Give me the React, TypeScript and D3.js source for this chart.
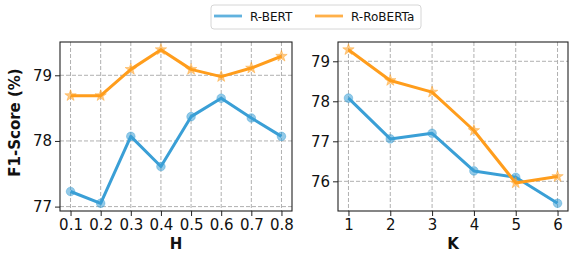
import { useEffect, useRef } from 'react'
import * as d3 from 'd3'

const W = 569, H = 253
const FONT = 'DejaVu Sans, sans-serif'

const BLUE = '#3a9fd6'
const ORANGE = '#ff9d1c'

// ── data ────────────────────────────────────────────────────────────────
const H_VALUES = [0.1, 0.2, 0.3, 0.4, 0.5, 0.6, 0.7, 0.8]
const H_BERT = [77.23, 77.05, 78.07, 77.61, 78.37, 78.65, 78.35, 78.07]
const H_ROBERTA = [78.69, 78.69, 79.09, 79.39, 79.09, 78.98, 79.11, 79.29]

const K_VALUES = [1, 2, 3, 4, 5, 6]
const K_BERT = [78.08, 77.06, 77.2, 76.26, 76.1, 75.45]
const K_ROBERTA = [79.29, 78.52, 78.23, 77.27, 75.96, 76.12]

const H_YTICKS = [77, 78, 79]
const K_YTICKS = [76, 77, 78, 79]

const LEGEND = [
  { label: 'R-BERT', color: BLUE },
  { label: 'R-RoBERTa', color: ORANGE },
]

interface Panel {
  x0: number; x1: number; y0: number; y1: number
  xs: number[]; a: number[]; b: number[]
  yticks: number[]; xlabel: string; xfmt: (v: number) => string
  ylabel?: string
}

const PANELS: Panel[] = [
  { x0: 60, x1: 292, y0: 42, y1: 211, xs: H_VALUES, a: H_BERT, b: H_ROBERTA,
    yticks: H_YTICKS, xlabel: 'H', xfmt: v => v.toFixed(1), ylabel: 'F1-Score (%)' },
  { x0: 338, x1: 568, y0: 42, y1: 211, xs: K_VALUES, a: K_BERT, b: K_ROBERTA,
    yticks: K_YTICKS, xlabel: 'K', xfmt: v => String(v) },
]

// matplotlib-style 5% padding
function padded(vals: number[]): [number, number] {
  const [lo, hi] = d3.extent(vals) as [number, number]
  const m = (hi - lo) * 0.05
  return [lo - m, hi + m]
}

function starPath(r: number) {
  const pts: string[] = []
  for (let i = 0; i < 10; i++) {
    const rr = i % 2 === 0 ? r : r * 0.4
    const ang = -Math.PI / 2 + (i * Math.PI) / 5
    pts.push(`${(rr * Math.cos(ang)).toFixed(2)},${(rr * Math.sin(ang)).toFixed(2)}`)
  }
  return `M${pts.join('L')}Z`
}

export default function App() {
  const svgRef = useRef<SVGSVGElement>(null)

  useEffect(() => {
    const svg = d3.select(svgRef.current!)
    svg.selectAll('*').remove()

    PANELS.forEach(p => {
      const x = d3.scaleLinear().domain(padded(p.xs)).range([p.x0, p.x1])
      const y = d3.scaleLinear().domain(padded([...p.a, ...p.b])).range([p.y1, p.y0])
      const g = svg.append('g')

      // ── grid ──────────────────────────────────────────────────────────
      g.selectAll('line.vg').data(p.xs).join('line')
        .attr('x1', d => x(d)).attr('x2', d => x(d))
        .attr('y1', p.y0).attr('y2', p.y1)
        .attr('stroke', '#b0b0b0').attr('stroke-width', 1).attr('stroke-dasharray', '4 2')
      g.selectAll('line.hg').data(p.yticks).join('line')
        .attr('x1', p.x0).attr('x2', p.x1)
        .attr('y1', d => y(d)).attr('y2', d => y(d))
        .attr('stroke', '#b0b0b0').attr('stroke-width', 1).attr('stroke-dasharray', '4 2')

      // ── axes ──────────────────────────────────────────────────────────
      g.append('g').attr('transform', `translate(0,${p.y1})`)
        .call(d3.axisBottom(x).tickValues(p.xs).tickFormat(d => p.xfmt(d as number)).tickSize(5).tickPadding(3))
        .call(ax => {
          ax.select('.domain').remove()
          ax.selectAll('.tick line').attr('stroke', '#222')
          ax.selectAll('.tick text').attr('font-size', 15).attr('font-family', FONT).attr('fill', '#111')
        })
      g.append('g').attr('transform', `translate(${p.x0},0)`)
        .call(d3.axisLeft(y).tickValues(p.yticks).tickFormat(d3.format('d')).tickSize(5).tickPadding(3))
        .call(ax => {
          ax.select('.domain').remove()
          ax.selectAll('.tick line').attr('stroke', '#222')
          ax.selectAll('.tick text').attr('font-size', 15).attr('font-family', FONT).attr('fill', '#111')
        })

      // ── series ────────────────────────────────────────────────────────
      const series = [
        { vals: p.a, color: BLUE, marker: 'circle' },
        { vals: p.b, color: ORANGE, marker: 'star' },
      ]
      series.forEach(s => {
        const line = d3.line<number>().x((_, i) => x(p.xs[i])).y(d => y(d))
        g.append('path').attr('d', line(s.vals))
          .attr('fill', 'none').attr('stroke', s.color).attr('stroke-width', 3)
          .attr('stroke-linejoin', 'round')
        if (s.marker === 'circle') {
          g.selectAll(null).data(s.vals).join('circle')
            .attr('cx', (_, i) => x(p.xs[i])).attr('cy', d => y(d)).attr('r', 4.3)
            .attr('fill', s.color).attr('fill-opacity', 0.55)
            .attr('stroke', s.color).attr('stroke-opacity', 0.4).attr('stroke-width', 1)
        } else {
          g.selectAll(null).data(s.vals).join('path')
            .attr('d', starPath(6))
            .attr('transform', (d, i) => `translate(${x(p.xs[i])},${y(d)})`)
            .attr('fill', s.color).attr('fill-opacity', 0.55)
            .attr('stroke', s.color).attr('stroke-opacity', 0.4).attr('stroke-width', 1)
        }
      })

      // ── frame + labels ────────────────────────────────────────────────
      g.append('rect')
        .attr('x', p.x0).attr('y', p.y0).attr('width', p.x1 - p.x0).attr('height', p.y1 - p.y0)
        .attr('fill', 'none').attr('stroke', '#222').attr('stroke-width', 1.1)

      g.append('text')
        .attr('x', (p.x0 + p.x1) / 2).attr('y', 249)
        .attr('text-anchor', 'middle').attr('font-size', 15).attr('font-weight', 'bold')
        .attr('font-family', FONT).attr('fill', '#111')
        .text(p.xlabel)

      if (p.ylabel) {
        g.append('text')
          .attr('transform', `translate(20,${(p.y0 + p.y1) / 2 - 4}) rotate(-90)`)
          .attr('text-anchor', 'middle').attr('font-size', 15).attr('font-weight', 'bold')
          .attr('font-family', FONT).attr('fill', '#111')
          .text(p.ylabel)
      }
    })

    // ── legend ────────────────────────────────────────────────────────────
    const lg = svg.append('g')
    lg.append('rect')
      .attr('x', 211).attr('y', 5).attr('width', 210).attr('height', 24).attr('rx', 3)
      .attr('fill', '#fff').attr('stroke', '#d6d6d6').attr('stroke-width', 1)
    const itemX = [214, 315]
    LEGEND.forEach((it, i) => {
      lg.append('line')
        .attr('x1', itemX[i]).attr('x2', itemX[i] + 28).attr('y1', 16).attr('y2', 16)
        .attr('stroke', it.color).attr('stroke-width', 2.8).attr('opacity', 0.8)
      lg.append('text')
        .attr('x', itemX[i] + 36).attr('y', 20.5)
        .attr('font-size', 12).attr('font-family', FONT).attr('fill', '#111')
        .text(it.label)
    })
  }, [])

  return (
    <div style={{ position: 'fixed', left: 0, top: 0 }}>
      <svg ref={svgRef} width={W} height={H} style={{ display: 'block', background: '#fff' }} />
    </div>
  )
}
